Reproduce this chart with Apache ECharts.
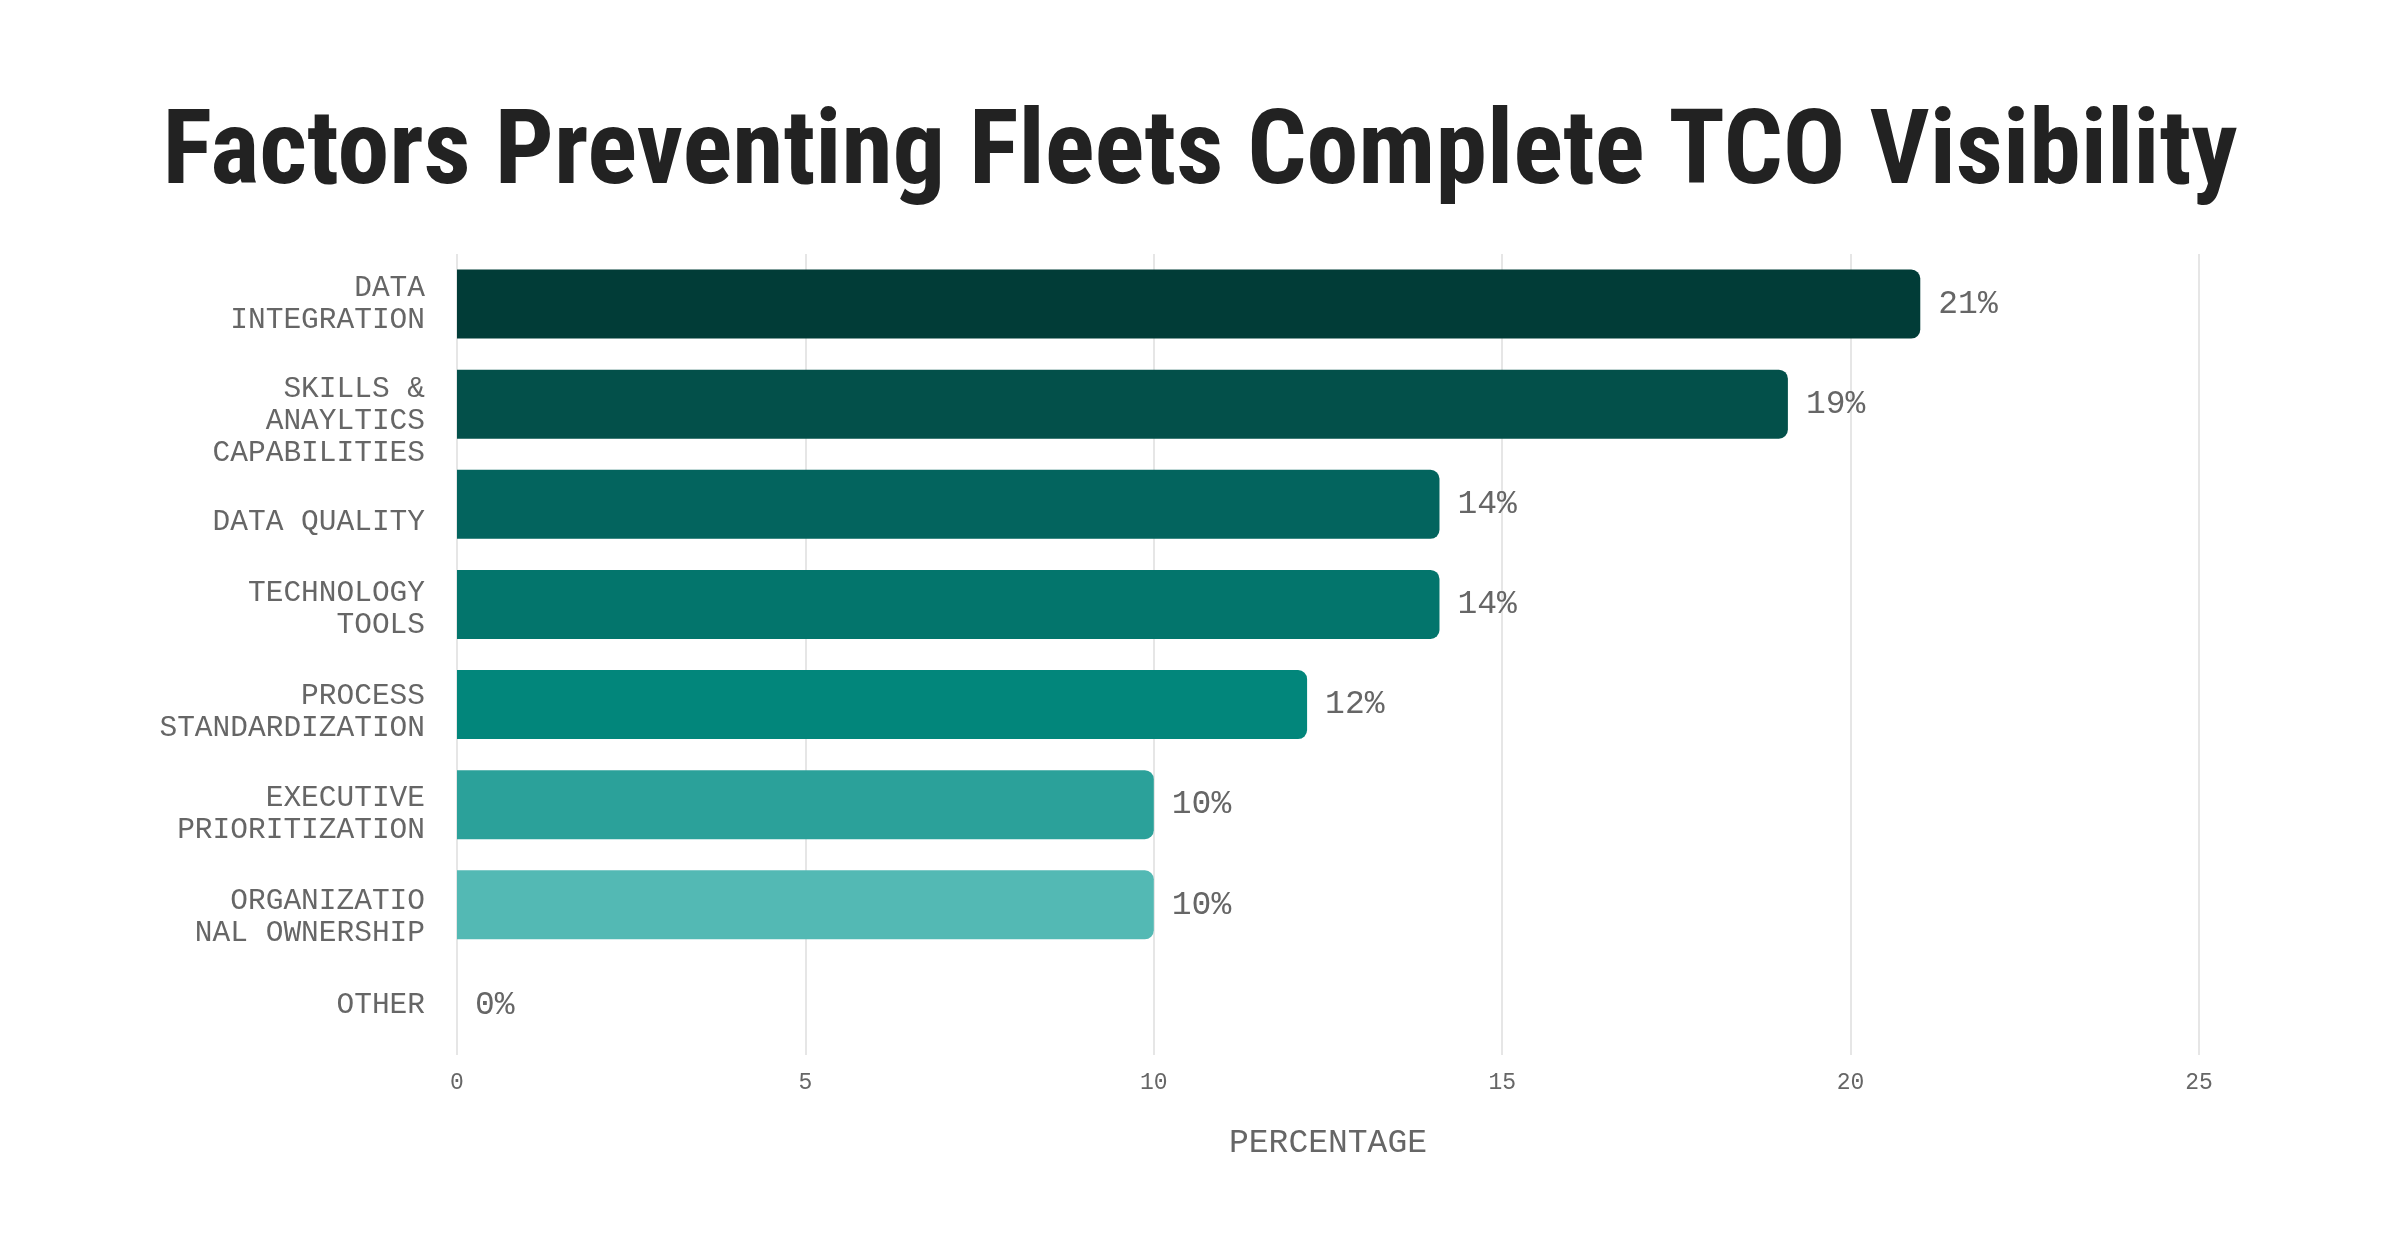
<!DOCTYPE html>
<html>
<head>
<meta charset="utf-8">
<script src="https://cdn.jsdelivr.net/npm/echarts@6/dist/echarts.min.js"></script>
<style>
  html, body { margin: 0; padding: 0; background: #fff; }
  #chart { width: 2400px; height: 1260px; }
</style>
</head>
<body>
<div id="chart"></div>
<script>
// categories, top to bottom
const categories = [
    'DATA\nINTEGRATION',
    'SKILLS &\nANAYLTICS\nCAPABILITIES',
    'DATA QUALITY',
    'TECHNOLOGY\nTOOLS',
    'PROCESS\nSTANDARDIZATION',
    'EXECUTIVE\nPRIORITIZATION',
    'ORGANIZATIO\nNAL OWNERSHIP',
    'OTHER'
];
const percentages = [21.0, 19.1, 14.1, 14.1, 12.2, 10.0, 10.0, 0];
const barColors = ['#013c37', '#03504a', '#03645e', '#03756c', '#02867b', '#2ba19a', '#53b9b4', '#8fd3cf'];
const xTicks = [0, 5, 10, 15, 20, 25];

// in the original the labels drift a little below their bars (px down)
const labelDrop = [0, 17, 18, 5, 8, 9, 12, 0];

const monoFont = '"Liberation Mono", "DejaVu Sans Mono", monospace';

// an empty spacer line on top pushes the centred label block down by half its height
const spacerStyles = {};
labelDrop.forEach((d, i) => {
    spacerStyles['s' + i] = { fontSize: 1, lineHeight: d * 2, height: d * 2 };
});

const chart = echarts.init(document.getElementById('chart'));
const option = {
    backgroundColor: '#ffffff',
    animation: false,
    title: {
        text: 'Factors Preventing Fleets Complete TCO Visibility',
        left: 'center',
        top: 100,
        textStyle: {
            fontFamily: '"Liberation Sans Narrow", "Roboto Condensed", "Liberation Sans", sans-serif',
            fontWeight: 'bold',
            fontSize: 104,
            color: '#222222'
        }
    },
    grid: {
        left: 457,
        right: 201,
        top: 254,
        bottom: 205,
        containLabel: false
    },
    xAxis: {
        type: 'value',
        min: xTicks[0],
        max: xTicks[xTicks.length - 1],
        interval: 5,
        name: 'PERCENTAGE',
        nameLocation: 'middle',
        nameGap: 72,
        nameTextStyle: {
            fontFamily: monoFont,
            fontSize: 33,
            color: '#666666'
        },
        axisLine: { show: false },
        axisTick: { show: false },
        axisLabel: {
            margin: 16,
            fontFamily: monoFont,
            fontSize: 23,
            color: '#666666'
        },
        splitLine: {
            show: true,
            lineStyle: { color: '#e6e6e6', width: 2 }
        }
    },
    yAxis: {
        type: 'category',
        data: categories,
        inverse: true,
        axisLine: { show: false },
        axisTick: { show: false },
        axisLabel: {
            margin: 32,
            fontFamily: monoFont,
            fontSize: 29.5,
            lineHeight: 32,
            color: '#666666',
            align: 'right',
            formatter: (v, i) => labelDrop[i] ? '{s' + i + '| }\n' + v : v,
            rich: spacerStyles
        }
    },
    series: [{
        type: 'bar',
        barWidth: 69,
        data: percentages.map((v, i) => ({
            value: v,
            itemStyle: { color: barColors[i] }
        })),
        itemStyle: {
            borderRadius: [0, 9, 9, 0]
        },
        label: {
            show: true,
            position: 'right',
            distance: 18,
            fontFamily: monoFont,
            fontSize: 33,
            color: '#666666',
            formatter: p => Math.round(p.value) + '%'
        }
    }]
};
chart.setOption(option);
window.addEventListener('resize', () => chart.resize());
</script>
</body>
</html>
